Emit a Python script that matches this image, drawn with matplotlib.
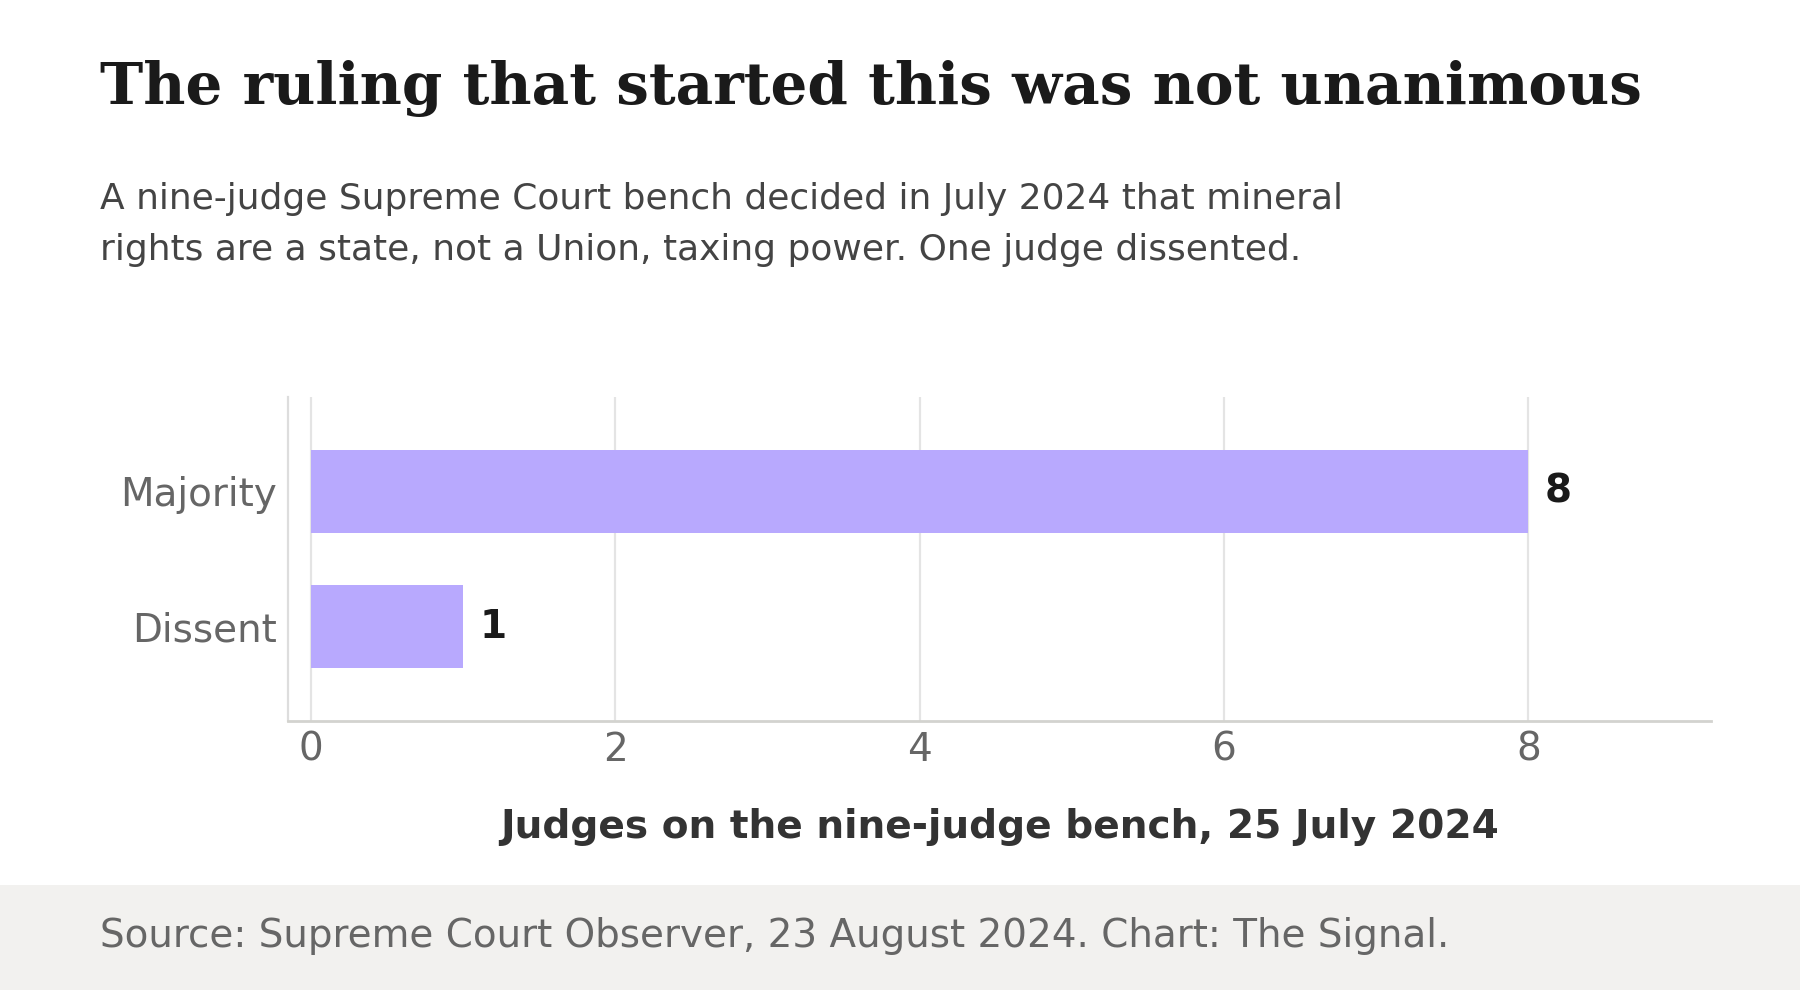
import matplotlib
matplotlib.use("Agg")
import matplotlib.pyplot as plt
from matplotlib.patches import Rectangle
import numpy as np

# ---- data ----
categories = ["Majority", "Dissent"]
judges = [8, 1]
x_ticks = [0, 2, 4, 6, 8]

title = "The ruling that started this was not unanimous"
subtitle = ("A nine-judge Supreme Court bench decided in July 2024 that mineral\n"
            "rights are a state, not a Union, taxing power. One judge dissented.")
x_label = "Judges on the nine-judge bench, 25 July 2024"
source = "Source: Supreme Court Observer, 23 August 2024. Chart: The Signal."

W, H = 1800, 990
DPI = 200
fig = plt.figure(figsize=(W / DPI, H / DPI), dpi=DPI)
fig.patch.set_facecolor("white")

# footer band
fig.patches.append(Rectangle((0, 0), 1, (H - 885) / H, transform=fig.transFigure,
                             facecolor="#f2f1ef", edgecolor="none", zorder=0))

ax = fig.add_axes([288 / W, 1 - 721 / H, (1711 - 288) / W, (721 - 397) / H])
ypos = np.arange(len(categories))
bars = ax.barh(ypos, judges, height=0.62, color="#b8a9fe", zorder=3)
ax.set_yticks(ypos)
ax.set_yticklabels(categories)
ax.set_ylim(1.7, -0.7)
ax.set_xlim(-0.15, 9.2)
ax.set_xticks(x_ticks)
ax.grid(axis="x", color="#e4e4e4", linewidth=0.8, zorder=0)
ax.grid(axis="y", visible=False)
for s in ["top", "right"]:
    ax.spines[s].set_visible(False)
ax.spines["left"].set_color("#dddddd")
ax.spines["left"].set_linewidth(0.8)
ax.spines["bottom"].set_color("#d3d3cf")
ax.spines["bottom"].set_linewidth(1.0)
ax.tick_params(axis="both", length=0, labelsize=14, colors="#666666")
ax.tick_params(axis="x", pad=3.5)
ax.tick_params(axis="y", pad=4)

for b, v in zip(bars, judges):
    ax.annotate(str(v), xy=(b.get_width(), b.get_y() + b.get_height() / 2),
                xytext=(6, 0), textcoords="offset points", va="center", ha="left",
                fontsize=14, fontweight="bold", color="#1a1a1a")

ax.set_xlabel(x_label, fontsize=14.1, fontweight="bold", color="#333333", labelpad=14)

fig.text(100 / W, 1 - 104 / H, title, family="DejaVu Serif", fontweight="bold",
         fontsize=20.9, color="#1a1a1a", va="baseline", ha="left")
fig.text(100 / W, 1 - 182.5 / H, subtitle, fontsize=12.95, color="#444444",
         va="top", ha="left", linespacing=1.6)
fig.text(100 / W, 1 - 947 / H, source, fontsize=14, color="#666666",
         va="baseline", ha="left")

fig.savefig("out.png", dpi=DPI, facecolor=fig.get_facecolor())
